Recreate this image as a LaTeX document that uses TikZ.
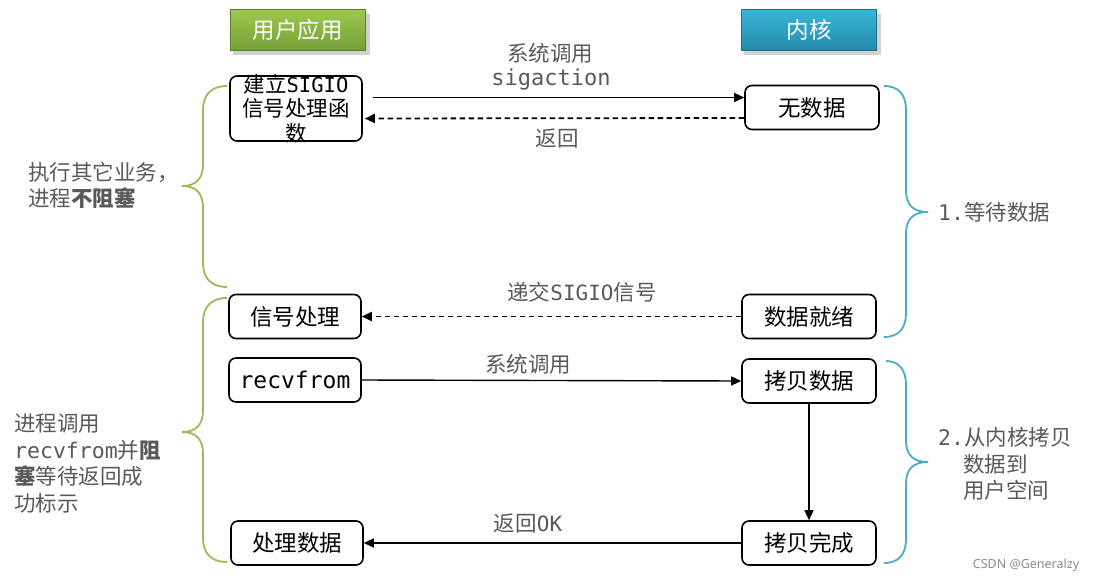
\documentclass[tikz,border=0pt]{standalone}
\usepackage{fontspec}
\setmainfont{Noto Sans CJK SC}
\newfontfamily\mono{DejaVu Sans Mono}
\newfontfamily\wmfont{Noto Sans}
\usetikzlibrary{arrows.meta}
\definecolor{txtgray}{HTML}{595959}
\definecolor{bracegreen}{HTML}{9BBB59}
\definecolor{braceblue}{HTML}{4BACC6}
\definecolor{gtop}{RGB}{158,200,78}
\definecolor{gbot}{RGB}{116,160,56}
\definecolor{btop}{RGB}{56,182,216}
\definecolor{bbot}{RGB}{38,138,170}
\begin{document}
\begin{tikzpicture}[x=1pt,y=-1pt,
  box/.style={draw=black, line width=1.6pt, rounded corners=7pt, minimum width=134pt, minimum height=44pt, inner sep=0pt, font=\fontsize{22.5}{24}\selectfont},
  hdr/.style={minimum width=135pt, minimum height=41pt, inner sep=0pt, text=white, font=\fontsize{22.5}{24}\selectfont},
  lbl/.style={text=txtgray, inner sep=0pt, font=\fontsize{21.5}{26}\selectfont},
  side/.style={text=txtgray, inner sep=0pt, anchor=west, align=left, font=\fontsize{21.5}{26.5}\selectfont},
  arr/.style={line width=1.4pt, -{Triangle[length=10pt,width=9pt]}},
  darr/.style={arr, line width=1.8pt, dash pattern=on 5.5pt off 3.5pt},
  gbrace/.style={draw=bracegreen, line width=1.8pt},
  bbrace/.style={draw=braceblue, line width=1.8pt}
]
\useasboundingbox (0,0) rectangle (1100,582);
% headers with shadows
\fill[black, opacity=0.18] (233,14) rectangle (370,55);
\fill[black, opacity=0.18] (744,14) rectangle (881,55);
\node[hdr, top color=gtop, bottom color=gbot, draw=gbot!80!black, line width=0.4pt] (user) at (297.5,30) {用户应用};
\node[hdr, top color=btop, bottom color=bbot, draw=bbot!80!black, line width=0.4pt] (kern) at (809,30) {内核};

% boxes
\node[box, minimum width=132pt, minimum height=65pt] (setup) at (296,108.5) {};
\node[text=black, align=center, inner sep=0pt, font=\fontsize{21.5}{24.5}\selectfont] (setuptxt) at (296,108.5) {建立{\mono\fontsize{20.5}{24.5}\selectfont SIGIO}\\信号处理函\\数};
\node[box] (nodata) at (812,107.5) {无数据};
\node[box, minimum width=132pt] (sighand) at (295,316.5) {信号处理};
\node[box] (ready) at (809,316.5) {数据就绪};
\node[box, minimum width=132pt] (recv) at (295,380) {{\mono\fontsize{23}{24}\selectfont recvfrom}};
\node[box] (copy) at (809,381) {拷贝数据};
\node[box] (done) at (809,543) {拷贝完成};
\node[box, minimum width=132pt] (proc) at (297,543) {处理数据};

% connectors
\draw[arr] ([xshift=10pt,yshift=11pt]setup.east) -- ([yshift=10pt]nodata.west);
\draw[darr] ([yshift=-10.5pt]nodata.west) -- ([xshift=2pt,yshift=-10pt]setup.east);
\draw[darr] (ready.west) -- (sighand.east);
\draw[arr] (recv.east) -- (copy.west);
\draw[arr] (copy.south) -- (done.north);
\draw[arr] (done.west) -- (proc.east);

% connector labels
\node[lbl] (l1) at (550,53) {系统调用};
\node[lbl, font=\mono\fontsize{22}{24}\selectfont] (l1b) at (551,80) {sigaction};
\node[lbl] (l2) at (557,138) {返回};
\node[lbl] (l3) at (582,292) {递交{\mono\fontsize{21}{24}\selectfont SIGIO}信号};
\node[lbl] (l4) at (528,364) {系统调用};
\node[lbl] (l5) at (528,523) {返回{\mono\fontsize{21}{24}\selectfont OK}};

% braces
\draw[gbrace] (227,86) .. controls (211,86) and (203,95) .. (203,110) -- (203,164)
  .. controls (203,179) and (196,186) .. (182,186) .. controls (196,186) and (203,193) .. (203,208)
  -- (203,263) .. controls (203,278) and (211,287) .. (227,287);
\draw[gbrace] (227,298) .. controls (211,298) and (203,307) .. (203,322) -- (203,410)
  .. controls (203,425) and (196,432) .. (182,432) .. controls (196,432) and (203,439) .. (203,454)
  -- (203,538) .. controls (203,553) and (211,562) .. (227,562);
\draw[bbrace] (884,86) .. controls (899,86) and (906,95) .. (906,110) -- (906,190)
  .. controls (906,205) and (913,212) .. (928,212) .. controls (913,212) and (906,219) .. (906,234)
  -- (906,313) .. controls (906,328) and (899,337) .. (884,337);
\draw[bbrace] (886,361) .. controls (899,361) and (906,370) .. (906,385) -- (906,440)
  .. controls (906,455) and (913,462) .. (928,462) .. controls (913,462) and (906,469) .. (906,484)
  -- (906,539) .. controls (906,554) and (899,563) .. (884,563);

% side texts
\node[side] (t1) at (28,185.5) {执行其它业务，\\进程\textbf{不阻塞}};
\node[side] (t2) at (14,463.5) {进程调用\\{\mono recvfrom}并\textbf{阻}\\\textbf{塞}等待返回成\\功标示};
\node[lbl, anchor=west] (t3) at (938,212) {{\mono 1.}等待数据};
\node[side] (t4) at (938,464) {{\mono 2.}从内核拷贝\\\hspace{25pt}数据到\\\hspace{25pt}用户空间};
\node[inner sep=0pt, text=black!45, font=\wmfont\fontsize{12.5}{14}\selectfont] (wm) at (1026,565) {CSDN @Generalzy};
\end{tikzpicture}
\end{document}
